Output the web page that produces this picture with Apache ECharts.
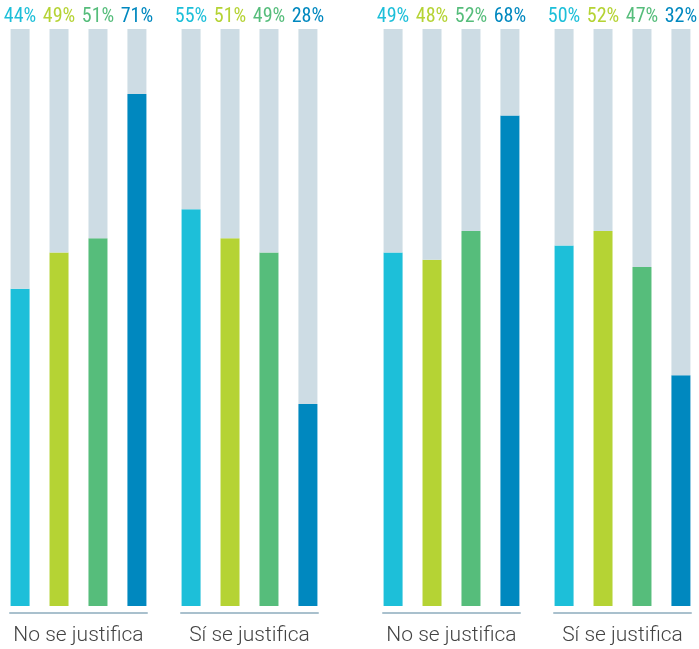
<!DOCTYPE html>
<html>
<head>
<meta charset="utf-8">
<script src="https://cdn.jsdelivr.net/npm/echarts@6/dist/echarts.min.js"></script>
<style>
  html, body { margin: 0; padding: 0; background: #fff; }
  #chart { width: 699px; height: 649px; }
</style>
</head>
<body>
<div id="chart"></div>
<script>
// grupos (cada uno en su propio grid)
const groups = ['No se justifica', 'Sí se justifica', 'No se justifica', 'Sí se justifica'];
// las cuatro barras de cada grupo
const serie1 = [44, 55, 49, 50];
const serie2 = [49, 51, 48, 52];
const serie3 = [51, 49, 52, 47];
const serie4 = [71, 28, 68, 32];
const series = [serie1, serie2, serie3, serie4];
const colors = ['#1dbfd9', '#b5d334', '#56bd7b', '#0088bf'];
const axisMax = 80;

// posicion horizontal de cada grupo
const gridLeft = [10, 181, 383, 554];
const gridWidth = 137;

const chart = echarts.init(document.getElementById('chart'));

const grid = [], xAxis = [], yAxis = [], seriesOpt = [];
groups.forEach((g, i) => {
  grid.push({ left: gridLeft[i], width: gridWidth, top: 29, bottom: 43 });
  xAxis.push({
    type: 'category',
    gridIndex: i,
    position: 'bottom',
    data: [g],
    offset: 7,
    axisTick: { show: false },
    axisLine: { onZero: false, lineStyle: { color: '#a9c0cd', width: 2 } },
    axisLabel: {
      color: '#444',
      fontFamily: 'Roboto',
      fontWeight: 300,
      fontSize: 21,
      margin: 12
    }
  });
  yAxis.push({ type: 'value', gridIndex: i, min: 0, max: axisMax, show: false });

  series.forEach((vals, j) => {
    const stackId = 'g' + i + 'b' + j;
    // parte de color
    seriesOpt.push({
      type: 'bar',
      xAxisIndex: i,
      yAxisIndex: i,
      stack: stackId,
      barWidth: 19,
      barGap: '105%',
      silent: true,
      itemStyle: { color: colors[j] },
      data: [vals[i]]
    });
    // resto hasta el maximo, con la etiqueta
    seriesOpt.push({
      type: 'bar',
      xAxisIndex: i,
      yAxisIndex: i,
      stack: stackId,
      barWidth: 19,
      barGap: '105%',
      silent: true,
      itemStyle: { color: '#cddce4' },
      label: {
        show: true,
        position: 'top',
        distance: 2,
        color: colors[j],
        fontFamily: 'Liberation Sans Narrow, Roboto Condensed, Roboto',
        fontSize: 20,
        formatter: () => vals[i] + '%'
      },
      data: [axisMax - vals[i]]
    });
  });
});

chart.setOption({
  animation: false,
  grid: grid,
  xAxis: xAxis,
  yAxis: yAxis,
  series: seriesOpt
});
</script>
</body>
</html>
